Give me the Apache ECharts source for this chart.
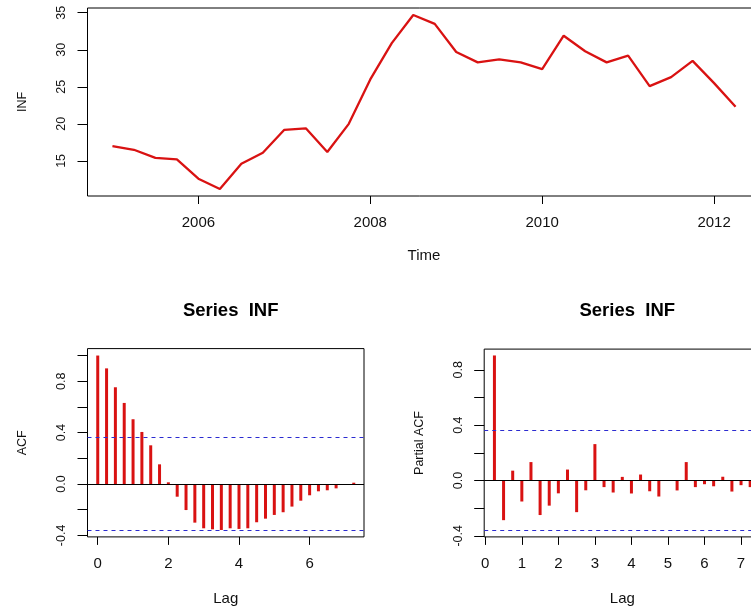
<!DOCTYPE html>
<html>
<head>
<meta charset="utf-8">
<script src="https://cdn.jsdelivr.net/npm/echarts@6/dist/echarts.min.js"></script>
<style>
html,body{margin:0;padding:0;background:#fff;}
#chart{width:751px;height:607px;}
</style>
</head>
<body>
<div id="chart"></div>
<script>
// ---- data ----
const times = [2005.00, 2005.25, 2005.50, 2005.75, 2006.00, 2006.25, 2006.50, 2006.75,
  2007.00, 2007.25, 2007.50, 2007.75, 2008.00, 2008.25, 2008.50, 2008.75,
  2009.00, 2009.25, 2009.50, 2009.75, 2010.00, 2010.25, 2010.50, 2010.75,
  2011.00, 2011.25, 2011.50, 2011.75, 2012.00, 2012.25];
const infValues = [17.0, 16.5, 15.4, 15.2, 12.6, 11.2, 14.6, 16.1,
  19.2, 19.4, 16.2, 20.0, 26.0, 30.9, 34.7, 33.5,
  29.7, 28.3, 28.7, 28.3, 27.4, 31.9, 29.8, 28.3,
  29.2, 25.1, 26.3, 28.5, 25.5, 22.3];

const acfLags = [0, 0.25, 0.5, 0.75, 1, 1.25, 1.5, 1.75, 2, 2.25, 2.5, 2.75, 3, 3.25, 3.5, 3.75,
  4, 4.25, 4.5, 4.75, 5, 5.25, 5.5, 5.75, 6, 6.25, 6.5, 6.75, 7, 7.25];
const acfValues = [1.0, 0.90, 0.753, 0.631, 0.504, 0.405, 0.301, 0.153, 0.013, -0.099, -0.203, -0.301,
  -0.345, -0.353, -0.358, -0.345, -0.350, -0.345, -0.298, -0.270, -0.241, -0.220, -0.176, -0.130,
  -0.088, -0.057, -0.049, -0.034, -0.001, 0.010];

const pacfLags = [0.25, 0.5, 0.75, 1, 1.25, 1.5, 1.75, 2, 2.25, 2.5, 2.75, 3, 3.25, 3.5, 3.75,
  4, 4.25, 4.5, 4.75, 5, 5.25, 5.5, 5.75, 6, 6.25, 6.5, 6.75, 7, 7.25];
const pacfValues = [0.904, -0.287, 0.071, -0.152, 0.133, -0.250, -0.182, -0.093, 0.079, -0.229, -0.071,
  0.263, -0.048, -0.087, 0.026, -0.094, 0.043, -0.078, -0.116, 0.002, -0.072, 0.133, -0.048,
  -0.027, -0.042, 0.027, -0.080, -0.034, -0.048];

const confLimit = 0.358;

const timeTicks = [2006, 2008, 2010, 2012];
const infTicks = [15, 20, 25, 30, 35];
const acfXTicks = [0, 2, 4, 6];
const pacfXTicks = [0, 1, 2, 3, 4, 5, 6, 7];
const corrTicks = [-0.4, -0.2, 0, 0.2, 0.4, 0.6, 0.8, 1.0];
const corrLabels = [-0.4, 0, 0.4, 0.8];

// ---- styles ----
const FONT = "'Liberation Sans', Arial, sans-serif";
const RED = '#d91212';
const BLUE = '#2b2bd0';

function xAx(grid, min, max, ticks, name, margin, gap) {
  return {
    gridIndex: grid, type: 'value', min: min, max: max,
    axisLine: {show: false, onZero: false},
    splitLine: {show: false},
    axisTick: {show: true, inside: false, customValues: ticks, length: 8, lineStyle: {color: '#000', width: 1}},
    axisLabel: {show: true, customValues: ticks, margin: margin, fontSize: 15, color: '#111', fontFamily: FONT,
      formatter: v => String(v)},
    name: name, nameLocation: 'middle', nameGap: gap,
    nameTextStyle: {fontSize: 15, color: '#111', fontFamily: FONT}
  };
}
function yAx(grid, min, max, ticks, labels, name, fmt) {
  return {
    gridIndex: grid, type: 'value', min: min, max: max,
    axisLine: {show: false, onZero: false},
    splitLine: {show: false},
    axisTick: {show: true, inside: false, customValues: ticks, length: 10, lineStyle: {color: '#000', width: 1}},
    axisLabel: {show: true, customValues: labels, rotate: 90, margin: 19, fontSize: 12.5, color: '#111', fontFamily: FONT,
      formatter: fmt},
    name: name, nameLocation: 'middle', nameGap: 58, nameRotate: 90,
    nameTextStyle: {fontSize: 12.5, color: '#111', fontFamily: FONT}
  };
}
const gridStyle = {show: true, borderColor: '#000', borderWidth: 1, backgroundColor: 'transparent',
  containLabel: false, outerBoundsMode: 'none'};

function refLines() {
  return {
    silent: true, symbol: 'none', label: {show: false}, animation: false,
    data: [
      {yAxis: 0, lineStyle: {color: '#000', width: 1, type: 'solid'}},
      {yAxis: confLimit, lineStyle: {color: BLUE, width: 1, type: [4, 4]}},
      {yAxis: -confLimit, lineStyle: {color: BLUE, width: 1, type: [4, 4]}}
    ]
  };
}

const chart = echarts.init(document.getElementById('chart'), null, {renderer: 'canvas'});
chart.setOption({
  animation: false,
  backgroundColor: '#fff',
  textStyle: {fontFamily: FONT},
  title: [
    {text: 'Series  INF', left: 225.7, top: 296, textAlign: 'center',
      textStyle: {fontSize: 18.5, fontWeight: 'bold', color: '#000', fontFamily: FONT}},
    {text: 'Series  INF', left: 622.3, top: 296, textAlign: 'center',
      textStyle: {fontSize: 18.5, fontWeight: 'bold', color: '#000', fontFamily: FONT}}
  ],
  grid: [
    Object.assign({left: 87.5, top: 8, width: 673, height: 188}, gridStyle),
    Object.assign({left: 87.5, top: 348.6, width: 276.5, height: 188.3}, gridStyle),
    Object.assign({left: 484.2, top: 349.1, width: 276.2, height: 187.8}, gridStyle)
  ],
  xAxis: [
    xAx(0, 2004.71, 2012.54, timeTicks, 'Time', 19, 52),
    xAx(1, -0.29, 7.54, acfXTicks, 'Lag', 19.5, 54),
    xAx(2, -0.03, 7.53, pacfXTicks, 'Lag', 19.5, 54)
  ],
  yAxis: [
    yAx(0, 10.26, 35.64, infTicks, infTicks, 'INF', v => String(v)),
    yAx(1, -0.412, 1.054, corrTicks, corrLabels, 'ACF', v => v.toFixed(1)),
    yAx(2, -0.408, 0.95, corrTicks, corrLabels, 'Partial ACF', v => v.toFixed(1))
  ],
  series: [
    {
      type: 'line', xAxisIndex: 0, yAxisIndex: 0,
      data: times.map((t, i) => [t, infValues[i]]),
      showSymbol: false, symbol: 'none',
      lineStyle: {color: RED, width: 2.3},
      itemStyle: {color: RED}
    },
    {
      type: 'bar', xAxisIndex: 1, yAxisIndex: 1,
      data: acfLags.map((l, i) => [l, acfValues[i]]),
      barWidth: 3, itemStyle: {color: RED},
      markLine: refLines()
    },
    {
      type: 'bar', xAxisIndex: 2, yAxisIndex: 2,
      data: pacfLags.map((l, i) => [l, pacfValues[i]]),
      barWidth: 3, itemStyle: {color: RED},
      markLine: refLines()
    }
  ]
});
</script>
</body>
</html>
